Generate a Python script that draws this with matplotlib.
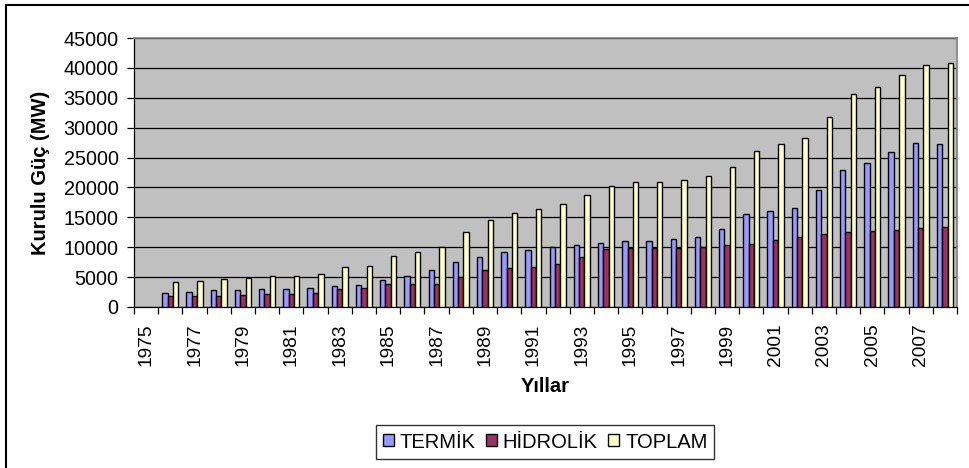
import matplotlib
matplotlib.use("Agg")
import matplotlib.pyplot as plt
from matplotlib.lines import Line2D
from matplotlib.patches import Patch
import numpy as np

plt.rcParams['font.family'] = ['Liberation Sans', 'DejaVu Sans']

years = list(range(1975, 2009))
termik = [0, 2407, 2492, 2854, 2908, 2989, 2988, 3181, 3556, 3696, 4569, 5244, 6221,
          7474, 8300, 9193, 9536, 10078, 10319, 10638, 10977, 11074, 11297, 11772,
          13021, 15556, 16053, 16623, 19569, 22974, 24145, 25902, 27420, 27272]
hidrolik = [0, 1780, 1873, 1873, 1960, 2130, 2131, 2356, 3082, 3239, 3875, 3875, 3878,
            5003, 6218, 6597, 6764, 7114, 8379, 9682, 9865, 9880, 9952, 10120,
            10333, 10563, 11211, 11709, 12277, 12613, 12679, 12941, 13145, 13395]
toplam = [0, 4187, 4364, 4727, 4868, 5119, 5119, 5538, 6639, 6935, 8462, 9122, 10115,
          12495, 14521, 15808, 16318, 17209, 18716, 20320, 20860, 20954, 21249, 21892,
          23354, 26119, 27264, 28332, 31846, 35587, 36824, 38844, 40565, 40836]
series_names = ['TERMİK', 'HİDROLİK', 'TOPLAM']
colors = ['#9999FF', '#993366', '#FFFFCC']

W, H = 970, 468
fig = plt.figure(figsize=(W / 100, H / 100), dpi=100)
ax = fig.add_axes([134 / W, 1 - 307 / H, 823 / W, 269 / H])
ax.set_facecolor('#C0C0C0')

x = np.arange(len(years))
bw = 0.222
for k, (vals, c) in enumerate(zip([termik, hidrolik, toplam], colors)):
    v = np.array(vals, dtype=float)
    mask = v > 0
    ax.bar(x[mask] + (k - 1) * bw, v[mask], width=bw, color=c, edgecolor='black',
           linewidth=1.0, zorder=3)

ax.set_xlim(-0.5, len(years) - 0.5)
ax.set_ylim(0, 45000)
ax.set_yticks(np.arange(0, 45001, 5000))
ax.yaxis.grid(True, color='black', linewidth=0.9, zorder=1)
ax.set_axisbelow(True)
ax.tick_params(axis='y', direction='out', length=5, width=0.9, labelsize=14.2, pad=6)

# category boundaries as ticks, labels centered at categories
ax.set_xticks(np.arange(-0.5, len(years), 1.0))
ax.set_xticklabels([])
ax.tick_params(axis='x', which='major', direction='out', length=5, width=0.9)
lab_idx = x[::2]
ax.set_xticks(lab_idx, minor=True)
ax.set_xticklabels([str(years[i]) for i in lab_idx], minor=True, rotation=90, fontsize=13.8)
ax.tick_params(axis='x', which='minor', length=0, pad=12)

for s in ['top', 'right']:
    ax.spines[s].set_color('#808080')
    ax.spines[s].set_linewidth(1.2)
for s in ['left', 'bottom']:
    ax.spines[s].set_color('black')
    ax.spines[s].set_linewidth(0.9)

ax.set_ylabel('Kurulu Güç (MW)', fontsize=14.5, fontweight='bold', labelpad=10)
fig.text(545 / W, 1 - 387 / H, 'Yıllar', fontsize=14.5, fontweight='bold',
         ha='center', va='center')

handles = [Patch(facecolor=c, edgecolor='black', linewidth=1.0) for c in colors]
leg = fig.legend(handles, series_names, loc='center', bbox_to_anchor=(545 / W, 1 - 442 / H),
                 ncol=3, fontsize=14.5, frameon=True, fancybox=False, handlelength=0.55,
                 handleheight=0.55, handletextpad=0.3, columnspacing=0.5, borderpad=0.35)
leg.get_frame().set_edgecolor('black')
leg.get_frame().set_linewidth(1.0)

# outer chart border (top & left visible)
fig.add_artist(Line2D([6 / W, 1.0], [1 - 5 / H, 1 - 5 / H], color='black', linewidth=1.5,
                      transform=fig.transFigure))
fig.add_artist(Line2D([6 / W, 6 / W], [0, 1 - 5 / H], color='black', linewidth=1.5,
                      transform=fig.transFigure))

fig.savefig('out.png', dpi=100)
